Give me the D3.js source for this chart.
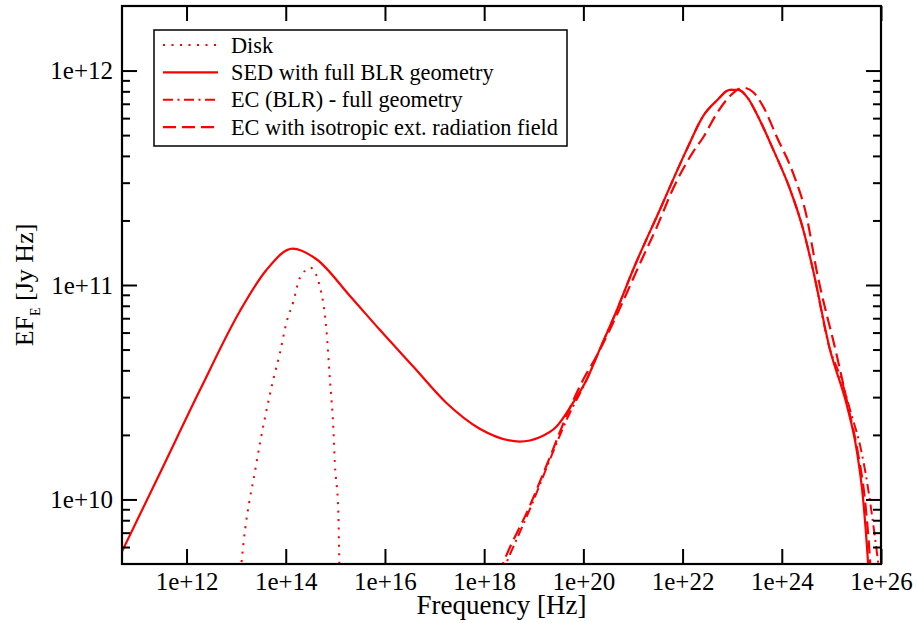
<html>
<head>
<meta charset="utf-8">
<style type="text/css">
  body { margin: 0; background: #fff; }
  text { font-family: "Liberation Serif", "Times New Roman", serif; }
</style>
</head>
<body>
<script src="https://d3js.org/d3.v7.min.js"></script>
<script>
// values, log10(frequency / Hz) and log10(EF_E / Jy Hz)
var sedLogNu = [10.60, 11.50, 12.27, 13.08, 13.61, 14.14, 14.62, 15.29, 15.90, 16.57, 17.24, 17.91, 18.72, 19.12, 19.46, 19.79, 20.07, 20.33, 20.67, 21.00, 21.54, 22.08, 22.42, 22.69, 22.95, 23.12, 23.32, 23.49, 23.83, 24.16, 24.43, 24.63, 24.97, 25.31, 25.51, 25.64, 25.72, 25.74, 25.77];
var sedLogF  = [9.71, 10.14, 10.51, 10.88, 11.07, 11.17, 11.12, 10.95, 10.79, 10.62, 10.45, 10.33, 10.27, 10.29, 10.34, 10.45, 10.56, 10.70, 10.88, 11.07, 11.35, 11.63, 11.79, 11.86, 11.91, 11.91, 11.87, 11.80, 11.63, 11.45, 11.26, 11.07, 10.70, 10.44, 10.23, 10.00, 9.77, 9.70, 9.62];

var diskLogNu = [13.05, 13.11, 13.41, 13.75, 13.88, 14.02, 14.15, 14.28, 14.50, 14.69, 14.82, 14.89, 14.96, 14.99, 15.06, 15.08, 15.10];
var diskLogF  = [9.55, 9.71, 10.17, 10.56, 10.68, 10.83, 10.92, 11.03, 11.08, 10.99, 10.79, 10.56, 10.33, 10.17, 9.94, 9.71, 9.55];

var blrLogNu = [18.35, 18.44, 18.95, 19.35, 19.68, 20.07, 20.33, 20.67, 21.00, 21.54, 22.08, 22.42, 22.69, 22.95, 23.12, 23.32, 23.49, 23.83, 24.16, 24.43, 24.63, 24.97, 25.17, 25.41, 25.58, 25.72, 25.84, 25.94, 25.98];
var blrLogF  = [9.65, 9.70, 9.97, 10.20, 10.38, 10.56, 10.70, 10.88, 11.07, 11.35, 11.63, 11.79, 11.86, 11.91, 11.91, 11.87, 11.80, 11.63, 11.45, 11.26, 11.07, 10.70, 10.58, 10.39, 10.25, 10.08, 9.89, 9.71, 9.63];

var isoLogNu = [18.30, 18.38, 18.92, 19.33, 19.66, 20.00, 20.27, 20.53, 20.87, 21.14, 21.48, 21.81, 22.21, 22.42, 22.69, 22.95, 23.22, 23.42, 23.63, 23.90, 24.23, 24.50, 24.70, 25.11, 25.35, 25.54, 25.68, 25.78, 25.80];
var isoLogF  = [9.65, 9.70, 9.97, 10.20, 10.39, 10.56, 10.67, 10.79, 10.96, 11.10, 11.27, 11.45, 11.62, 11.69, 11.80, 11.88, 11.92, 11.90, 11.83, 11.69, 11.52, 11.32, 11.07, 10.67, 10.42, 10.21, 9.99, 9.71, 9.63];

var xTicks = [1e12, 1e14, 1e16, 1e18, 1e20, 1e22, 1e24, 1e26];
var yTicks = [1e10, 1e11, 1e12];
var legendNames = ["Disk", "SED with full BLR geometry", "EC (BLR) - full geometry", "EC with isotropic ext. radiation field"];

var w = 917, h = 623;
var pLeft = 122, pRight = 881, pTop = 6, pBottom = 564;

var svg = d3.select("body").append("svg").attr("width", w).attr("height", h);

var x = d3.scaleLog().domain([5e10, 1e26]).range([pLeft, pRight]);
var y = d3.scaleLog().domain([5e9, 2e12]).range([pBottom, pTop]);

function pairs(a, b) { return a.map(function(v, i){ return [Math.pow(10, v), Math.pow(10, b[i])]; }); }

var series = [
  { name: legendNames[0], data: pairs(diskLogNu, diskLogF), dash: "2,6.5", width: 2 },
  { name: legendNames[1], data: pairs(sedLogNu, sedLogF), dash: null, width: 2.2 },
  { name: legendNames[2], data: pairs(blrLogNu, blrLogF), dash: "10,4.5,2,4.5", width: 2 },
  { name: legendNames[3], data: pairs(isoLogNu, isoLogF), dash: "13,6", width: 2.2 }
];

svg.append("clipPath").attr("id", "clip")
  .append("rect").attr("x", pLeft).attr("y", pTop).attr("width", pRight - pLeft).attr("height", pBottom - pTop);

var line = d3.line()
  .x(function(d){ return x(d[0]); })
  .y(function(d){ return y(d[1]); })
  .curve(d3.curveMonotoneX);

svg.append("g").attr("clip-path", "url(#clip)")
  .selectAll("path")
  .data(series)
  .enter()
  .append("path")
  .attr("d", function(d){ return line(d.data); })
  .attr("fill", "none")
  .attr("stroke", "#ff0000")
  .attr("stroke-width", function(d){ return d.width; })
  .attr("stroke-dasharray", function(d){ return d.dash; });

// minor ticks on y
var yMinor = [];
[9, 10, 11, 12].forEach(function(e){
  for (var m = 2; m <= 9; m++) {
    var v = m * Math.pow(10, e);
    if (v > 5e9 && v < 2e12) yMinor.push(v);
  }
});

function fmt(d){ return "1e+" + Math.round(Math.log10(d)); }

function styleAxis(g) {
  g.select(".domain").remove();
  g.selectAll("line").attr("stroke", "#000").attr("stroke-width", 2);
  g.selectAll("text").attr("fill", "#000").attr("font-size", "25px")
    .attr("font-family", "'Liberation Serif', 'Times New Roman', serif");
}

svg.append("g").attr("transform", "translate(0," + pBottom + ")")
  .call(d3.axisBottom(x).tickValues(xTicks).tickSize(-15).tickPadding(8).tickFormat(fmt))
  .call(styleAxis);
svg.append("g").attr("transform", "translate(0," + pTop + ")")
  .call(d3.axisTop(x).tickValues(xTicks).tickSize(-15).tickFormat(""))
  .call(styleAxis);
svg.append("g").attr("transform", "translate(" + pLeft + ",0)")
  .call(d3.axisLeft(y).tickValues(yTicks).tickSize(-15).tickPadding(9).tickFormat(fmt))
  .call(styleAxis);
svg.append("g").attr("transform", "translate(" + pLeft + ",0)")
  .call(d3.axisLeft(y).tickValues(yMinor).tickSize(-8).tickFormat(""))
  .call(styleAxis);
svg.append("g").attr("transform", "translate(" + pRight + ",0)")
  .call(d3.axisRight(y).tickValues(yTicks).tickSize(-15).tickFormat(""))
  .call(styleAxis);
svg.append("g").attr("transform", "translate(" + pRight + ",0)")
  .call(d3.axisRight(y).tickValues(yMinor).tickSize(-8).tickFormat(""))
  .call(styleAxis);

// frame
svg.append("rect")
  .attr("x", pLeft).attr("y", pTop).attr("width", pRight - pLeft).attr("height", pBottom - pTop)
  .attr("fill", "none").attr("stroke", "#000").attr("stroke-width", 2.2);

// axis titles
svg.append("text")
  .attr("x", (pLeft + pRight) / 2).attr("y", 614)
  .attr("text-anchor", "middle").attr("font-size", "27px")
  .text("Frequency [Hz]");

var yt = svg.append("text")
  .attr("transform", "translate(33," + ((pTop + pBottom) / 2) + ") rotate(-90)")
  .attr("text-anchor", "middle").attr("font-size", "26px");
yt.append("tspan").text("EF");
yt.append("tspan").attr("font-size", "14px").attr("dy", 7).text("E");
yt.append("tspan").attr("dy", -7).text(" [Jy Hz]");

// legend
var lg = svg.append("g");
lg.append("rect")
  .attr("x", 154).attr("y", 30).attr("width", 413).attr("height", 116)
  .attr("fill", "#fff").attr("stroke", "#000").attr("stroke-width", 1.5);

var rows = lg.selectAll("g.row")
  .data(series)
  .enter()
  .append("g")
  .attr("class", "row")
  .attr("transform", function(d, i){ return "translate(0," + (45 + i * 27.4) + ")"; });

rows.append("line")
  .attr("x1", 163).attr("x2", 218).attr("y1", 0).attr("y2", 0)
  .attr("stroke", "#ff0000")
  .attr("stroke-width", function(d){ return d.width; })
  .attr("stroke-dasharray", function(d){ return d.dash; });

rows.append("text")
  .attr("x", 231).attr("y", 7.5)
  .attr("font-size", "22.3px")
  .text(function(d){ return d.name; });
</script>
</body>
</html>
